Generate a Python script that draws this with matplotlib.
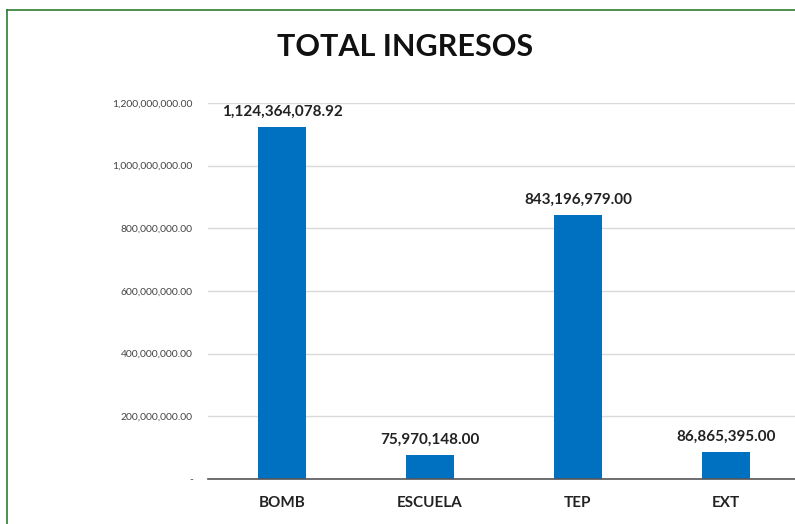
import matplotlib.pyplot as plt
from matplotlib.ticker import FuncFormatter, MultipleLocator
from matplotlib.lines import Line2D

categorias = ["BOMB", "ESCUELA", "TEP", "EXT"]
ingresos = [1124364078.92, 75970148.00, 843196979.00, 86865395.00]
etiquetas = ["1,124,364,078.92", "75,970,148.00", "843,196,979.00", "86,865,395.00"]

plt.rcParams['font.family'] = ['Lato', 'DejaVu Sans']

fig = plt.figure(figsize=(7.95, 5.24), dpi=100)
ax = fig.add_axes([208 / 795, 45 / 524, 592 / 795, 376 / 524])

x = range(len(categorias))
bars = ax.bar(x, ingresos, width=0.33, color="#0070C0", zorder=3)

for b, txt in zip(bars, etiquetas):
    ax.annotate(txt, (b.get_x() + b.get_width() / 2, b.get_height()),
                xytext=(0, 6), textcoords="offset points", ha="center", va="bottom",
                fontsize=11, fontweight="bold", color="#222222")

ax.set_xlim(-0.5, 3.5)
ax.set_ylim(0, 1.2e9)
ax.yaxis.set_major_locator(MultipleLocator(2e8))
ax.yaxis.set_major_formatter(FuncFormatter(lambda v, p: "-" if v == 0 else f"{v:,.2f}"))
ax.set_xticks(list(x))
ax.set_xticklabels(categorias, fontsize=11, fontweight="bold", color="#222222")
ax.tick_params(axis="x", length=0, pad=12)
ax.tick_params(axis="y", length=0, pad=11, labelsize=7.5, labelcolor="#444444")
ax.grid(axis="y", color="#d9d9d9", linewidth=1, zorder=0)
for s in ["top", "right", "left"]:
    ax.spines[s].set_visible(False)
ax.spines["bottom"].set_color("#555555")
ax.spines["bottom"].set_linewidth(1.2)
ax.spines["bottom"].set_zorder(4)

fig.text(0.509, 0.91, "TOTAL INGRESOS", ha="center", va="center",
         fontsize=22, fontweight="bold", color="#111111")

# marco verde (solo bordes izquierdo y superior visibles)
fig.add_artist(Line2D([7 / 795, 7 / 795], [0, 1 - 10 / 524], transform=fig.transFigure,
                      color="#2e7d32", linewidth=1.2))
fig.add_artist(Line2D([7 / 795, 1], [1 - 10 / 524, 1 - 10 / 524], transform=fig.transFigure,
                      color="#2e7d32", linewidth=1.2))

fig.savefig("out.png", dpi=100)
